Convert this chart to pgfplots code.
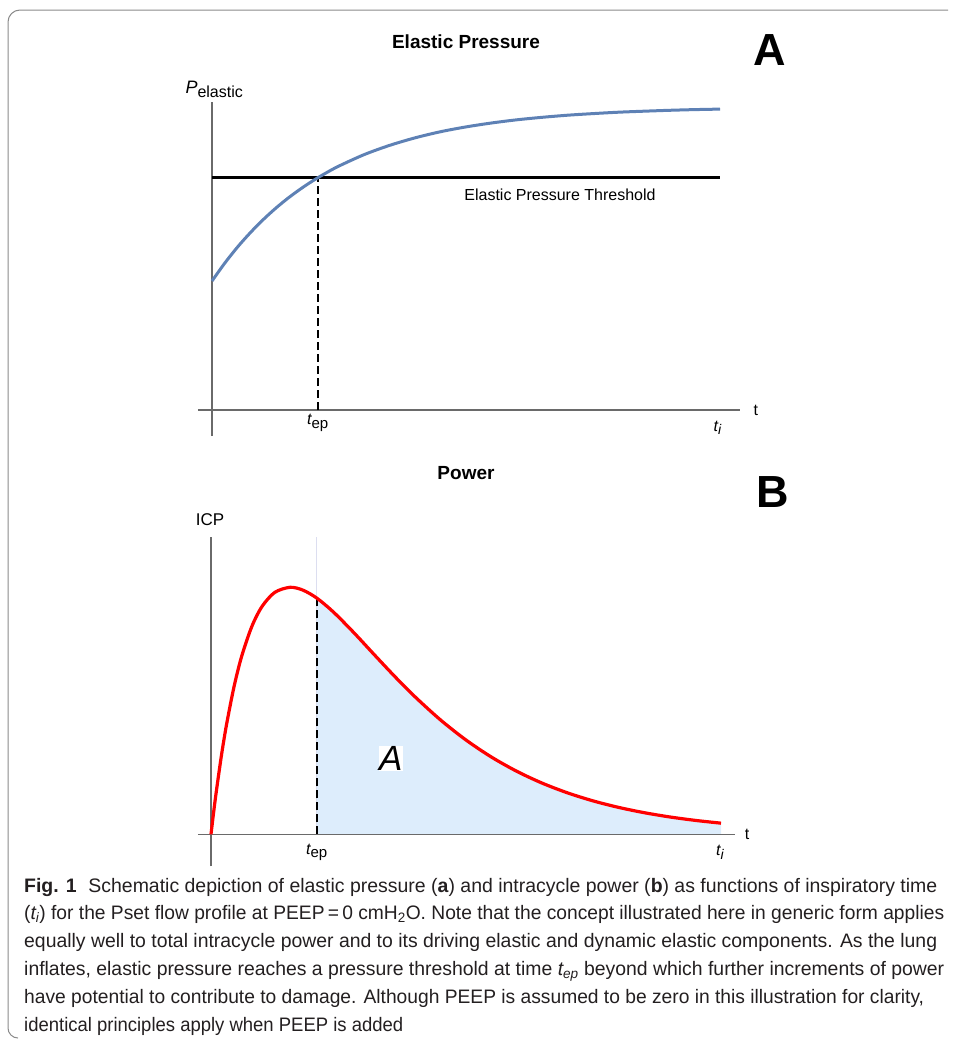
\documentclass[border=0pt]{standalone}
\usepackage{pgfplots}
\pgfplotsset{compat=1.18}
\usepackage{fontspec}
\usepackage{graphicx}
\setmainfont{Liberation Sans}
\newcommand\fs[1]{\fontsize{#1bp}{#1bp}\selectfont}
\definecolor{pblue}{HTML}{5E81B5}
\definecolor{fillblue}{HTML}{DDEDFC}
\definecolor{axgray}{HTML}{6A6A6A}
\definecolor{faint}{HTML}{DCDEF0}
\definecolor{frame}{HTML}{8A8A8A}
\definecolor{captext}{HTML}{231F20}
\begin{document}
\begin{tikzpicture}
\begin{scope}[x=1bp,y=1bp]
\useasboundingbox (0,0) rectangle (956,-1040);
\draw[frame, line width=1bp] (948,-10) -- (20,-10) arc[start angle=90,end angle=180,radius=12] -- (8,-1028) arc[start angle=180,end angle=270,radius=10];
\end{scope}

% ---------- Panel A ----------
\begin{axis}[at={(196.76bp,-440bp)}, anchor=south west, scale only axis,
  width=548.64bp, height=340bp, xmin=-0.03, xmax=1.05, ymin=-30, ymax=310,
  hide axis, clip=false]
\draw[axgray, line width=1.1bp] (axis cs:-0.0276,0) -- (axis cs:1.0394,0);
\draw[axgray, line width=1.1bp] (axis cs:0,-26) -- (axis cs:0,308);
\addplot[black, line width=2.5bp] coordinates {(0,232.5) (1,232.5)};
\addplot[black, line width=2.2bp, dash pattern=on 8bp off 4bp] coordinates {(0.208,0) (0.208,232.5)};
\addplot[pblue, line width=3bp, smooth] coordinates {
(0,129.0)(0.025,146.8)(0.05,162.8)(0.075,177.1)(0.1,190.0)(0.125,201.6)(0.15,212.0)
(0.175,221.3)(0.2,229.7)(0.225,237.2)(0.25,244.0)
(0.3,255.5)(0.35,264.7)(0.4,272.2)(0.45,278.3)(0.5,283.1)(0.55,287.0)(0.6,290.2)
(0.65,292.7)(0.7,294.8)(0.75,296.4)(0.8,297.8)(0.85,298.8)(0.9,299.7)(0.95,300.4)(1.0,300.9)};
\node at (axis cs:0.208,-13) {\fs{16}\itshape t\upshape\raisebox{-3.5bp}{\fs{15}ep}};
\node at (axis cs:0.995,-18) {\fs{16}\itshape t\raisebox{-3.5bp}{\fs{14}i}};
\node at (axis cs:1.0705,0) {\fs{16}t};
\node at (axis cs:0.685,215.5) {\fs{16}Elastic Pressure Threshold};
\end{axis}

% ---------- Panel B ----------
\begin{axis}[at={(195.7bp,-866.3bp)}, anchor=south west, scale only axis,
  width=550.8bp, height=332bp, xmin=-0.03, xmax=1.05, ymin=-32, ymax=300,
  hide axis, clip=false]
\addplot[fill=fillblue, draw=none, smooth] coordinates {
(0.2073,236.25)(0.24,222.29)(0.28,201.70)(0.32,179.71)(0.36,158.01)(0.4,137.54)
(0.45,114.39)(0.5,94.31)(0.55,77.21)(0.6,62.91)(0.65,51.04)(0.7,41.29)(0.75,33.31)
(0.8,26.83)(0.85,21.58)(0.9,17.33)(0.95,13.91)(1.0,11.15)} \closedcycle;
\addplot[faint, line width=1.5bp] coordinates {(0.2073,0) (0.2073,297)};
\addplot[black, line width=2.2bp, dash pattern=on 8bp off 4bp] coordinates {(0.2073,0) (0.2073,236.25)};
\draw[axgray, line width=1.1bp] (axis cs:-0.0255,0) -- (axis cs:1.0275,0);
\draw[axgray, line width=1.1bp] (axis cs:0,-32) -- (axis cs:0,297);
\addplot[red, line width=3.2bp, smooth] coordinates {
(0,0)(0.005,21.36)(0.01,41.33)(0.02,77.31)(0.03,108.48)(0.045,147.28)(0.06,177.80)
(0.08,207.79)(0.1,227.80)(0.125,241.91)(0.155,247.0)(0.18,244.23)(0.2073,236.25)
(0.24,222.29)(0.28,201.70)(0.32,179.71)(0.36,158.01)(0.4,137.54)(0.45,114.39)
(0.5,94.31)(0.55,77.21)(0.6,62.91)(0.65,51.04)(0.7,41.29)(0.75,33.31)(0.8,26.83)
(0.85,21.58)(0.9,17.33)(0.95,13.91)(1.0,11.15)};
\node at (axis cs:0.2073,-18) {\fs{16}\itshape t\upshape\raisebox{-3.5bp}{\fs{15}ep}};
\node at (axis cs:0.998,-18) {\fs{16}\itshape t\raisebox{-3.5bp}{\fs{14}i}};
\node at (axis cs:1.0510,0) {\fs{16}t};
\node[fill=white, inner sep=0.5bp] at (axis cs:0.3524,76) {\fs{35}\itshape A};
\end{axis}

\begin{scope}[x=1bp,y=1bp]
\node at (466,-42) {\fs{19}\bfseries Elastic Pressure};
\node at (770,-50) {\fs{45}\bfseries A};
\node[anchor=west] at (182,-89) {\fs{18}\itshape P\upshape\raisebox{-4bp}{\fs{16}elastic}};
\node at (466,-473) {\fs{19}\bfseries Power};
\node at (773,-492) {\fs{45}\bfseries B};
\node at (210,-520) {\fs{17}ICP};
\begin{scope}[every node/.style={anchor=base west, inner sep=0, text=captext}]
\node at (24,-892) {\resizebox{913bp}{\height}{\fs{19.5}\textbf{Fig. 1}\hspace{0.6em}Schematic depiction of elastic pressure (\textbf{a}) and intracycle power (\textbf{b}) as functions of inspiratory time}};
\node at (24,-919.8) {\resizebox{920bp}{\height}{\fs{19.5}(\textit{t\textsubscript{i}}) for the Pset flow profile at PEEP\,=\,0 cmH\textsubscript{2}O. Note that the concept illustrated here in generic form applies}};
\node at (24,-947.6) {\resizebox{913bp}{\height}{\fs{19.5}equally well to total intracycle power and to its driving elastic and dynamic elastic components. As the lung}};
\node at (24,-975.4) {\resizebox{920bp}{\height}{\fs{19.5}inflates, elastic pressure reaches a pressure threshold at time \textit{t\textsubscript{ep}} beyond which further increments of power}};
\node at (24,-1003.2) {\resizebox{900bp}{\height}{\fs{19.5}have potential to contribute to damage. Although PEEP is assumed to be zero in this illustration for clarity,}};
\node at (24,-1031) {\resizebox{379bp}{\height}{\fs{19.5}identical principles apply when PEEP is added}};
\end{scope}
\end{scope}
\end{tikzpicture}
\end{document}
